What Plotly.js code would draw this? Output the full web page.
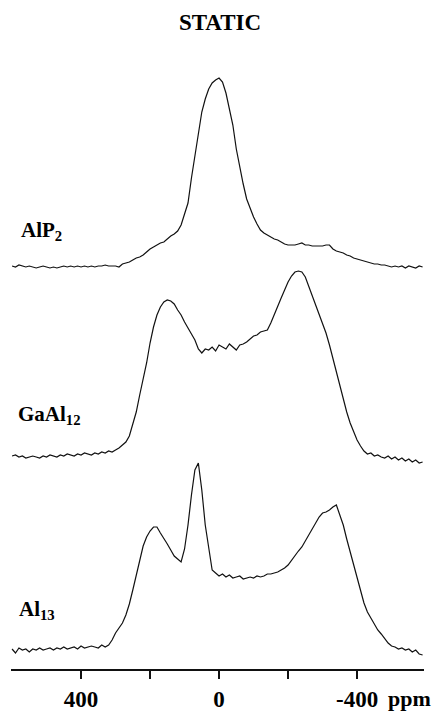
<!DOCTYPE html>
<html>
<head>
<meta charset="utf-8">
<script src="https://cdn.plot.ly/plotly-3.0.1.min.js"></script>
<style>html,body{margin:0;padding:0;background:#fff;}#chart{width:433px;height:713px;}</style>
</head>
<body>
<div id="chart"></div>
<script>
// Chemical shift grid (ppm)
var ppm = [600,590,580,570,560,550,540,530,520,510,
500,490,480,470,460,450,440,430,420,410,
400,390,380,370,360,350,340,330,320,310,
300,290,280,270,260,250,240,230,220,210,
200,190,180,170,160,150,140,130,120,110,
100,90,80,70,60,50,40,30,20,10,
0,-10,-20,-30,-40,-50,-60,-70,-80,-90,
-100,-110,-120,-130,-140,-150,-160,-170,-180,-190,
-200,-210,-220,-230,-240,-250,-260,-270,-280,-290,
-300,-310,-320,-330,-340,-350,-360,-370,-380,-390,
-400,-410,-420,-430,-440,-450,-460,-470,-480,-490,
-500,-510,-520,-530,-540,-550,-560,-570,-580,-590];

// Intensities (arbitrary units, relative to each spectrum's own baseline)
var alp2 = [1,0,2,1,0,1,0,-1,0,1,
0,-1,0,-1,0,1,0,1,0,1,
0,1,0,1,0,1,1,2,1,1,
1,0,3,4,5,7,9,10,12,15,
18,20,22,24,25,28,31,33,36,42,
52,64,89,112,135,155,168,178,184,187,
189,185,174,158,142,118,100,83,68,58,
50,43,37,34,32,30,28,27,25,23,
22,22,22,23,24,22,22,21,21,21,
21,22,22,18,16,15,14,12,11,9,
8,7,6,5,4,3,3,2,2,1,
0,1,0,1,-1,1,0,-1,1,0];

var gaal12 = [1,2,0,1,-1,0,1,0,-1,1,
0,2,1,0,2,1,3,2,1,3,
2,4,3,2,4,3,5,4,6,5,
7,9,12,15,21,33,45,62,78,94,
114,130,142,150,155,157,156,153,147,142,
135,129,123,117,108,104,108,107,110,106,
112,110,108,113,110,107,112,113,115,118,
121,122,125,126,127,134,143,152,159,167,
175,181,185,186,185,180,171,162,151,143,
135,124,112,98,86,72,57,45,34,25,
17,11,6,3,4,1,2,0,-1,1,
-2,0,-3,-1,-4,-2,-5,-3,-6,-5];

var al13 = [1,-3,2,0,1,-2,1,0,2,0,
1,2,0,2,1,3,1,2,3,1,
4,2,3,4,3,2,5,3,5,10,
17,22,27,35,46,60,75,90,104,113,
119,123,123,117,112,106,100,94,91,88,
101,125,155,180,187,160,125,100,80,77,
74,76,73,75,72,73,74,71,72,73,
72,74,73,74,76,76,77,78,80,82,
85,90,95,99,103,109,115,121,128,133,
137,138,140,143,145,136,125,111,98,85,
73,60,47,38,32,26,20,16,11,7,
4,3,1,2,0,1,-2,0,-4,-5];

var names = ['AlP<sub>2</sub>', 'GaAl<sub>12</sub>', 'Al<sub>13</sub>'];
var tickVals = [400, 200, 0, -200, -400];
var tickText = ['400', '', '0', '', '-400'];

// ---- layout geometry (pixels) ----
var W = 433, H = 713;
var L = 11, R = 9, T = 60, B = 44;
var plotW = W - L - R, plotH = H - T - B;
var offsets = [402, 212, 19];   // vertical stacking of the spectra
function addOff(arr, off) { return arr.map(function (v) { return v + off; }); }
function pxX(px) { return (px - L) / plotW; }
function pxY(py) { return (H - B - py) / plotH; }

var serif = '"Liberation Serif", "Times New Roman", serif';
var lineStyle = { color: '#111', width: 1.2 };

var series = [alp2, gaal12, al13];
var traces = series.map(function (s, i) {
  return { x: ppm, y: addOff(s, offsets[i]), type: 'scatter', mode: 'lines',
           line: lineStyle, hoverinfo: 'skip', showlegend: false };
});

var labelPos = [[19, 231], [16, 415], [17, 610]];
var annotations = names.map(function (n, i) {
  return { text: n, xref: 'paper', yref: 'paper', x: pxX(labelPos[i][0]), y: pxY(labelPos[i][1]),
           xanchor: 'left', yanchor: 'middle', showarrow: false,
           font: { family: serif, size: 21, weight: 'bold', color: '#000' } };
});
annotations.push({ text: 'ppm', xref: 'paper', yref: 'paper', x: pxX(433), y: pxY(698),
  xanchor: 'right', yanchor: 'middle', showarrow: false,
  font: { family: serif, size: 22, weight: 'bold', color: '#000' } });

var layout = {
  width: W, height: H,
  margin: { l: L, r: R, t: T, b: B, pad: 0 },
  paper_bgcolor: '#fff', plot_bgcolor: '#fff',
  title: { text: 'STATIC', xref: 'container', yref: 'container', x: 220 / W, xanchor: 'center',
           y: 1 - 21.5 / H, yanchor: 'middle',
           font: { family: serif, size: 23, weight: 'bold', color: '#000' } },
  xaxis: { range: [603, -594], showgrid: false, zeroline: false, showline: true,
           linecolor: '#111', linewidth: 1.5, ticks: 'outside', ticklen: 8, tickwidth: 1.5,
           tickcolor: '#111', tickmode: 'array', tickvals: tickVals, ticktext: tickText,
           ticklabelstandoff: 1,
           tickfont: { family: serif, size: 23, weight: 'bold', color: '#000' } },
  yaxis: { range: [0, plotH], visible: false, showgrid: false, zeroline: false },
  annotations: annotations
};

Plotly.newPlot('chart', traces, layout, { displayModeBar: false, staticPlot: true });
</script>
</body>
</html>
